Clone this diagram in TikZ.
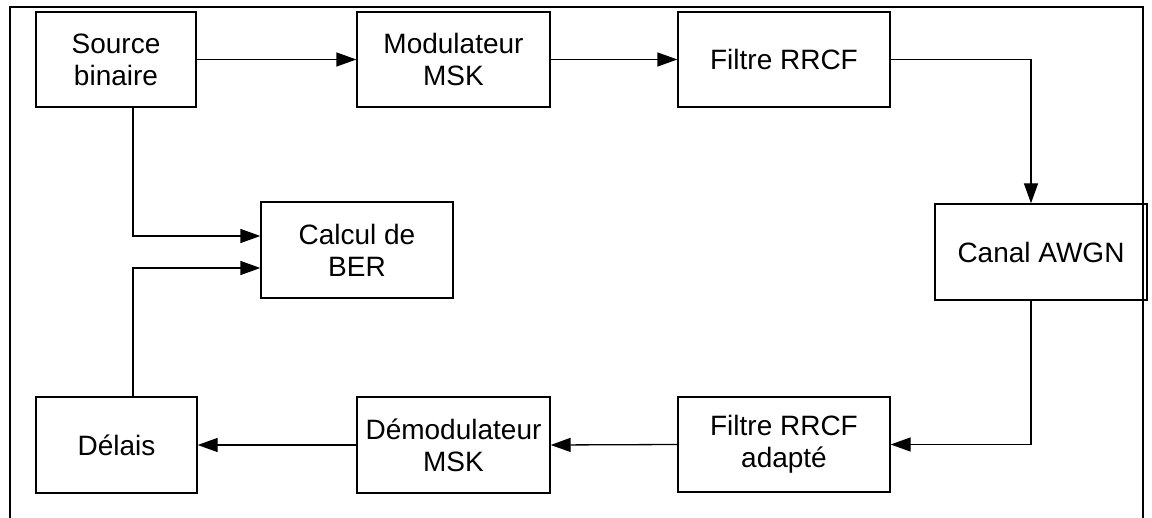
\documentclass[tikz,border=0pt]{standalone}
\usepackage{fontspec}
\setmainfont{Liberation Sans}
\usetikzlibrary{arrows.meta}
\begin{document}
\begin{tikzpicture}[x=1pt,y=-1pt,
  blk/.style={draw, line width=1.3pt, align=center, inner sep=0pt,
    font=\fontsize{28}{32}\selectfont},
  arr/.style={line width=1.3pt, -{Triangle[length=20pt,width=14pt]}}]
\useasboundingbox (0,0) rectangle (1152,518);
\draw[line width=2.2pt] (10,7) rectangle (1143,535);
\node[blk, minimum width=160pt, minimum height=95pt] (src) at (116,59.5) {Source\\binaire};
\node[blk, minimum width=193pt, minimum height=95pt] (mod) at (453.5,59.5) {Modulateur\\MSK};
\node[blk, minimum width=212pt, minimum height=95pt] (fil) at (784,59.5) {Filtre RRCF};
\node[blk, minimum width=212pt, minimum height=96pt] (can) at (1041,252) {Canal AWGN};
\node[blk, minimum width=192pt, minimum height=96pt] (ber) at (357,250) {Calcul de\\BER};
\node[blk, minimum width=161pt, minimum height=96pt] (del) at (116.5,445) {Délais};
\node[blk, minimum width=193pt, minimum height=96pt] (dem) at (453.5,445) {Démodulateur\\MSK};
\node[blk, minimum width=212pt, minimum height=95pt] (ada) at (784,444.5) {Filtre RRCF\\adapté};
\draw[arr] (src.east) -- (mod.west);
\draw[arr] (mod.east) -- (fil.west);
\draw[arr] (fil.east) -| ([xshift=-10pt]can.north);
\draw[arr] ([xshift=-10pt]can.south) |- (ada.east);
\draw[arr] (ada.west) -- (dem.east);
\draw[arr] (dem.west) -- (del.east);
\draw[arr] ([xshift=17pt]src.south) |- ([yshift=14pt]ber.west);
\draw[arr] ([xshift=16.5pt]del.north) |- ([yshift=-18pt]ber.west);
\end{tikzpicture}
\end{document}
